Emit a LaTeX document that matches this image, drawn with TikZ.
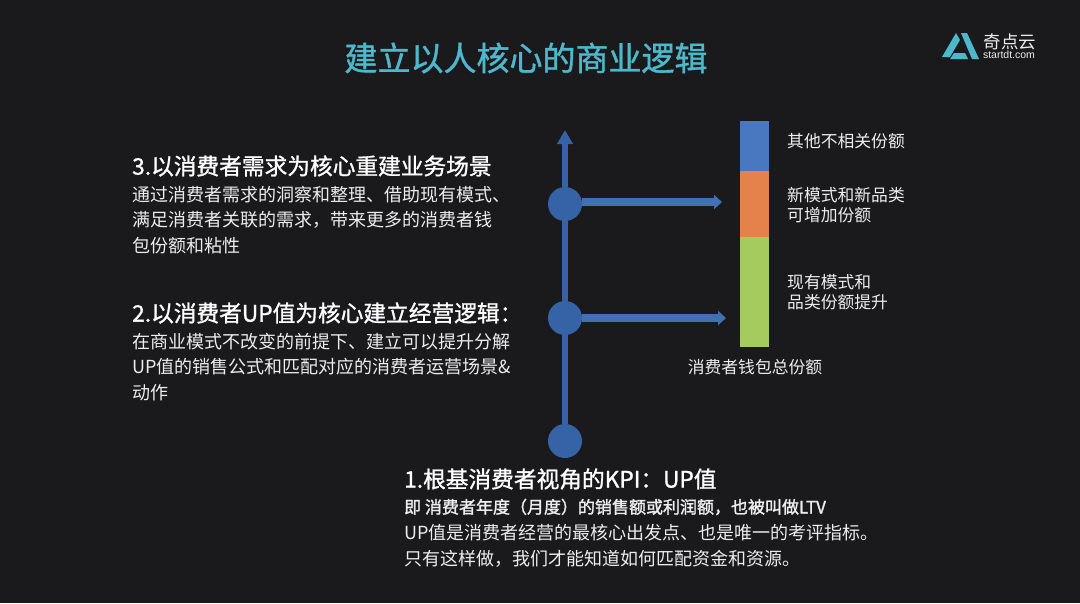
\documentclass[tikz,border=0pt]{standalone}
\usepackage{fontspec}
\usepackage{xcolor}
\usetikzlibrary{arrows.meta, positioning, calc}
\setmainfont{Noto Sans CJK SC}
\newfontfamily\latinfont{Liberation Sans}
\newfontfamily\midfont[FakeBold=1.2]{Noto Sans CJK SC}
\newfontfamily\lightbold[FakeBold=1.6]{Noto Sans CJK SC}
\definecolor{bgdark}{HTML}{1A1A1D}
\definecolor{axisblue}{HTML}{3563A6}
\definecolor{titleteal}{HTML}{4DB8CC}
\definecolor{barblue}{HTML}{4A78C0}
\definecolor{barorange}{HTML}{E5814A}
\definecolor{bargreen}{HTML}{A5CB5E}
\definecolor{softwhite}{HTML}{EDEDED}
\definecolor{pointerblue}{HTML}{4270B5}
\newcommand{\fsz}[2]{\fontsize{#1}{#2}\selectfont}
\tikzset{
  heading/.style={anchor=west, inner sep=0pt, text=white, font=\midfont\fsz{22.7}{25}},
  bodytext/.style={anchor=west, inner sep=0pt, align=left, text=softwhite, font=\fsz{18}{25.5}},
  barlabel/.style={anchor=west, inner sep=0pt, align=left, text=softwhite, font=\fsz{16.8}{20.5}},
  dot/.style={circle, fill=axisblue, minimum size=34pt, inner sep=0pt},
  barseg/.style={rectangle, inner sep=0pt, minimum width=29pt, anchor=north west},
  axisline/.style={axisblue, line width=5.5pt},
  pointer/.style={pointerblue, line width=7.5pt, -{Triangle[length=8pt,width=14pt]}}
}
\begin{document}
\begin{tikzpicture}[x=1pt,y=-1pt]
    \useasboundingbox[fill=bgdark] (0,0) rectangle (1080,603);
    \node[text=titleteal, inner sep=0pt, font=\midfont\fsz{33}{36}] (title) at (526,58) {建立以人核心的商业逻辑};

    % logo
    \fill[titleteal] (942,57) -- (956,33) -- (960,40) -- (950,57) -- cycle;
    \fill[titleteal] (961,33) -- (967,33) -- (979,59) -- (972,59) -- cycle;
    \fill[titleteal] (950,59) -- (954,53) -- (965,53) -- (968,59) -- cycle;
    \node[text=softwhite, inner sep=0pt, font=\fsz{17.5}{20}] (logotext) at (1010,42) {奇点云};
    \node[text=softwhite, inner sep=0pt, font=\latinfont\fsz{10.5}{12}] (logourl) at (1009,55) {startdt.com};

    % axis
    \coordinate (axistop) at (565,130);
    \node[dot] (dotc) at (565,204) {};
    \node[dot] (dotb) at (565,318) {};
    \node[dot] (dota) at (565,441) {};
    \draw[axisline] (dota) -- (dotb);
    \draw[axisline] (dotb) -- (dotc);
    \draw[axisline, -{Triangle[length=14pt,width=15pt]}] (dotc) -- (axistop);
    \coordinate (tipc) at (722,202);
    \coordinate (tipb) at (726,318);
    \draw[pointer] (dotc.east |- tipc) -- (tipc);
    \draw[pointer] (dotb) -- (tipb);

    % bar
    \node[barseg, fill=barblue, minimum height=50pt] (barother) at (740,121) {};
    \node[barseg, fill=barorange, minimum height=66pt] (barnew) at (740,171) {};
    \node[barseg, fill=bargreen, minimum height=110pt] (barold) at (740,237) {};
    \node[barlabel] (lblother) at (787,141) {其他不相关份额};
    \node[barlabel] (lblnew) at (787,205) {新模式和新品类\\可增加份额};
    \node[barlabel] (lblold) at (787,292) {现有模式和\\品类份额提升};
    \node[barlabel, anchor=center] (lbltotal) at (755,367) {消费者钱包总份额};

    % text
    \node[heading] (headc) at (132,166) {3.以消费者需求为核心重建业务场景};
    \node[bodytext] (bodyc) at (132,220) {通过消费者需求的洞察和整理、借助现有模式、\\满足消费者关联的需求，带来更多的消费者钱\\包份额和粘性};
    \node[heading] (headb) at (132,313) {2.以消费者UP值为核心建立经营逻辑：};
    \node[bodytext] (bodyb) at (132,367) {在商业模式不改变的前提下、建立可以提升分解\\UP值的销售公式和匹配对应的消费者运营场景\&\\动作};
    \node[heading] (heada) at (404,479) {1.根基消费者视角的KPI：UP值};
    \node[bodytext, font=\lightbold\fsz{17}{20}] (bodya) at (404,507) {即 消费者年度（月度）的销售额或利润额，也被叫做LTV};
    \node[bodytext, font=\fsz{18}{26}] (bodyd) at (404,546) {UP值是消费者经营的最核心出发点、也是唯一的考评指标。\\只有这样做，我们才能知道如何匹配资金和资源。};
\end{tikzpicture}
\end{document}
